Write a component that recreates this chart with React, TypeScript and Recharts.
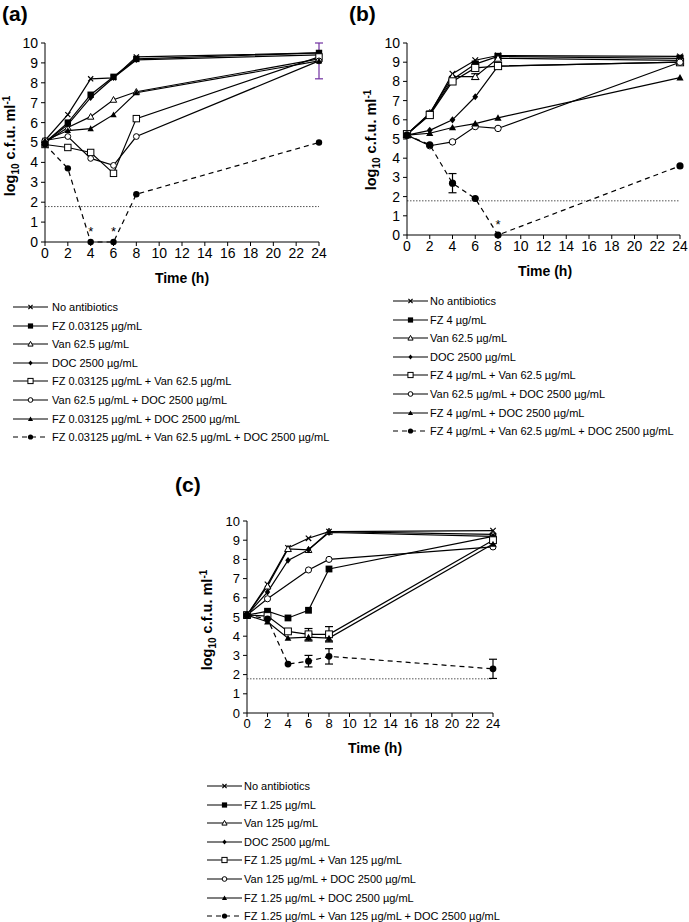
import { LineChart, Line, XAxis, YAxis, ReferenceLine, ErrorBar, LabelList } from "recharts";

const times = [0, 2, 4, 6, 8, 24];
const xTicks = [0, 2, 4, 6, 8, 10, 12, 14, 16, 18, 20, 22, 24];
const yTicks = [0, 1, 2, 3, 4, 5, 6, 7, 8, 9, 10];
const detectionLimit = 1.78;

// (a) FZ 0.03125
const aNone = [5.1, 6.4, 8.2, 8.25, 9.3, 9.5];
const aFz = [5.0, 6.0, 7.4, 8.3, 9.2, 9.5];
const aVan = [5.0, 5.75, 6.3, 7.15, 7.55, 9.2];
const aDoc = [5.0, 5.9, 7.25, 8.25, 9.15, 9.4];
const aFzVan = [4.9, 4.75, 4.5, 3.45, 6.2, 9.3];
const aVanDoc = [5.1, 5.3, 4.2, 3.85, 5.3, 9.1];
const aFzDoc = [5.1, 5.6, 5.7, 6.4, 7.5, 9.1];
const aTriple = [4.9, 3.7, 0, 0, 2.4, 5.0];
const aErrFzDoc = [null, null, null, null, null, 0.9];

// (b) FZ 4
const bNone = [5.25, 6.3, 8.4, 9.1, 9.35, 9.3];
const bFz = [5.25, 6.3, 8.1, 8.9, 9.3, 9.2];
const bVan = [5.25, 6.35, 8.25, 8.25, 9.2, 9.1];
const bDoc = [5.2, 5.45, 6.0, 7.2, 8.8, 9.0];
const bFzVan = [5.25, 6.25, 8.0, 8.7, 8.8, 9.0];
const bVanDoc = [5.2, 4.65, 4.85, 5.65, 5.55, 9.0];
const bFzDoc = [5.2, 5.3, 5.6, 5.8, 6.1, 8.2];
const bTriple = [5.2, 4.7, 2.7, 1.9, 0, 3.6];
const bErrVan = [null, null, null, 0.15, null, null];
const bErrTriple = [null, null, 0.5, null, null, null];

// (c) FZ 1.25
const cNone = [5.1, 6.7, 8.6, 9.1, 9.45, 9.5];
const cFz = [5.1, 5.3, 4.95, 5.35, 7.5, 9.2];
const cVan = [5.1, 6.6, 8.55, 8.5, 9.45, 9.3];
const cDoc = [5.1, 6.3, 7.95, 8.5, 9.4, 9.2];
const cFzVan = [5.1, 5.05, 4.25, 4.1, 4.1, 9.0];
const cVanDoc = [5.1, 5.95, null, 7.45, 8.0, 8.65];
const cFzDoc = [5.1, 4.75, 3.9, 3.95, 3.9, 8.8];
const cTriple = [5.1, 4.9, 2.55, 2.7, 2.95, 2.3];
const cErrFzVan = [null, null, null, 0.3, 0.4, null];
const cErrFzDoc = [null, null, null, 0.2, 0.15, null];
const cErrTriple = [null, null, null, 0.3, 0.4, 0.5];

const aLabels = [
  "No antibiotics",
  "FZ 0.03125 µg/mL",
  "Van 62.5 µg/mL",
  "DOC 2500 µg/mL",
  "FZ 0.03125 µg/mL + Van 62.5 µg/mL",
  "Van 62.5 µg/mL + DOC 2500 µg/mL",
  "FZ 0.03125 µg/mL + DOC 2500 µg/mL",
  "FZ 0.03125 µg/mL + Van 62.5 µg/mL + DOC 2500 µg/mL",
];
const bLabels = [
  "No antibiotics",
  "FZ 4 µg/mL",
  "Van 62.5 µg/mL",
  "DOC 2500 µg/mL",
  "FZ 4 µg/mL + Van 62.5 µg/mL",
  "Van 62.5 µg/mL + DOC 2500 µg/mL",
  "FZ 4 µg/mL + DOC 2500 µg/mL",
  "FZ 4 µg/mL + Van 62.5 µg/mL + DOC 2500 µg/mL",
];
const cLabels = [
  "No antibiotics",
  "FZ 1.25 µg/mL",
  "Van 125 µg/mL",
  "DOC 2500 µg/mL",
  "FZ 1.25 µg/mL + Van 125 µg/mL",
  "Van 125 µg/mL + DOC 2500 µg/mL",
  "FZ 1.25 µg/mL + DOC 2500 µg/mL",
  "FZ 1.25 µg/mL + Van 125 µg/mL + DOC 2500 µg/mL",
];

const keys = ["none", "fz", "van", "doc", "fzVan", "vanDoc", "fzDoc", "triple"];
const markers = ["cross", "square", "triOpen", "diamond", "sqOpen", "circOpen", "triFilled", "circFilled"];

const FONT = '"Liberation Sans", Arial, sans-serif';

const Marker = ({ kind, cx, cy, s }: { kind: string; cx: number; cy: number; s: number }) => {
  const k = "#000";
  switch (kind) {
    case "cross":
      return (
        <g stroke={k} strokeWidth={1.2}>
          <line x1={cx - s * 0.8} y1={cy - s * 0.8} x2={cx + s * 0.8} y2={cy + s * 0.8} />
          <line x1={cx - s * 0.8} y1={cy + s * 0.8} x2={cx + s * 0.8} y2={cy - s * 0.8} />
        </g>
      );
    case "square":
      return <rect x={cx - s} y={cy - s} width={s * 2} height={s * 2} fill={k} />;
    case "triOpen":
      return <polygon points={`${cx},${cy - s} ${cx + s},${cy + s * 0.8} ${cx - s},${cy + s * 0.8}`} fill="#fff" stroke={k} strokeWidth={1} />;
    case "diamond":
      return <polygon points={`${cx},${cy - s} ${cx + s * 0.8},${cy} ${cx},${cy + s} ${cx - s * 0.8},${cy}`} fill={k} />;
    case "sqOpen":
      return <rect x={cx - s} y={cy - s} width={s * 2} height={s * 2} fill="#fff" stroke={k} strokeWidth={1} />;
    case "circOpen":
      return <circle cx={cx} cy={cy} r={s * 0.9} fill="#fff" stroke={k} strokeWidth={1} />;
    case "triFilled":
      return <polygon points={`${cx},${cy - s} ${cx + s},${cy + s * 0.8} ${cx - s},${cy + s * 0.8}`} fill={k} />;
    default:
      return <circle cx={cx} cy={cy} r={s} fill={k} />;
  }
};

type PanelProps = {
  values: (number | null)[][];
  errs: Record<string, (number | null)[]>;
  errColor: string;
  left: number;
  top: number;
  width: number;
  height: number;
  mTop: number;
  mRight: number;
  yWidth: number;
  size: number;
  fontSize: number;
};

// asterisk above the points that dropped to zero
const Star = (props: any) => {
  const { x, y, value } = props;
  if (value !== 0) return null;
  return (
    <text x={x} y={y - 6} textAnchor="middle" fontSize={13} fontFamily={FONT} fill="#000" style={{ fill: "#000" }}>
      *
    </text>
  );
};

const Panel = (p: PanelProps) => {
  const rows = times.map((t, i) => {
    const row: Record<string, number | null> = { t };
    keys.forEach((key, j) => {
      row[key] = p.values[j][i];
      if (p.errs[key]) row[key + "Err"] = p.errs[key][i];
    });
    return row;
  });
  const tick = { fontSize: p.fontSize, fill: "#000", fontFamily: FONT };
  return (
    <div style={{ position: "absolute", left: p.left, top: p.top }}>
      <LineChart width={p.width} height={p.height} data={rows} margin={{ top: p.mTop, right: p.mRight, bottom: 0, left: 0 }}>
        <XAxis
          dataKey="t"
          type="number"
          domain={[0, 24]}
          ticks={xTicks}
          interval={0}
          height={30}
          tick={tick}
          tickSize={4}
          tickMargin={2}
          axisLine={{ stroke: "#000" }}
          tickLine={{ stroke: "#000" }}
        />
        <YAxis
          domain={[0, 10]}
          ticks={yTicks}
          interval={0}
          width={p.yWidth}
          tick={tick}
          tickSize={4}
          tickMargin={3}
          axisLine={{ stroke: "#000" }}
          tickLine={{ stroke: "#000" }}
        />
        <ReferenceLine y={detectionLimit} stroke="#555" strokeDasharray="1.5 1.5" />
        {keys.map((key, j) => (
          <Line
            key={key}
            dataKey={key}
            stroke="#000"
            strokeWidth={1.2}
            strokeDasharray={key === "triple" ? "5 4" : undefined}
            connectNulls
            isAnimationActive={false}
            dot={(d: any) =>
              d.cy == null || d.value == null ? (
                <g key={`${key}-${d.index}`} />
              ) : (
                <g key={`${key}-${d.index}`}>
                  <Marker kind={markers[j]} cx={d.cx} cy={d.cy} s={p.size} />
                </g>
              )
            }
            activeDot={false}
          >
            {p.errs[key] && (
              <ErrorBar dataKey={key + "Err"} width={4} stroke={p.errColor} strokeWidth={1.2} direction="y" isAnimationActive={false} />
            )}
            {key === "triple" && <LabelList dataKey={key} content={Star} />}
          </Line>
        ))}
      </LineChart>
    </div>
  );
};

const Legend = ({ labels, left, top, textLeft, step, size }: { labels: string[]; left: number; top: number; textLeft: number; step: number; size: number }) => (
  <>
    {labels.map((label, i) => (
      <div key={label} style={{ position: "absolute", left, top: top + i * step - 7, height: 14, display: "flex", alignItems: "center" }}>
        <svg width={textLeft - left} height={14} style={{ display: "block" }}>
          <line x1={0} y1={7} x2={35} y2={7} stroke="#000" strokeWidth={1.2} strokeDasharray={i === 7 ? "5 4" : undefined} />
          <Marker kind={markers[i]} cx={17.5} cy={7} s={size} />
        </svg>
        <span style={{ fontSize: 11, fontFamily: FONT, whiteSpace: "nowrap", color: "#000" }}>{label}</span>
      </div>
    ))}
  </>
);

const Abs = ({ x, y, children, style }: any) => (
  <div style={{ position: "absolute", left: x, top: y, transform: "translate(-50%, -50%)", whiteSpace: "nowrap", fontFamily: FONT, color: "#000", ...style }}>
    {children}
  </div>
);

const YTitle = ({ x, y }: { x: number; y: number }) => (
  <Abs x={x} y={y} style={{ transform: "translate(-50%, -50%) rotate(-90deg)", fontWeight: "bold", fontSize: 14.5 }}>
    log<sub style={{ fontSize: 10 }}>10</sub> c.f.u. ml<sup style={{ fontSize: 10 }}>-1</sup>
  </Abs>
);

const Letter = ({ x, y, text }: { x: number; y: number; text: string }) => (
  <div style={{ position: "absolute", left: x, top: y, fontFamily: FONT, fontWeight: "bold", fontSize: 21, lineHeight: "26px" }}>{text}</div>
);

export default function App() {
  return (
    <div style={{ position: "absolute", left: 0, top: 0, width: 689, height: 922, background: "#fff", overflow: "hidden" }}>
      <Letter x={2} y={1} text="(a)" />
      <Letter x={349} y={1} text="(b)" />
      <Letter x={175} y={472} text="(c)" />

      <Panel
        values={[aNone, aFz, aVan, aDoc, aFzVan, aVanDoc, aFzDoc, aTriple]}
        errs={{ fzDoc: aErrFzDoc }}
        errColor="#7030a0"
        left={0}
        top={0}
        width={330}
        height={272}
        mTop={43}
        mRight={11}
        yWidth={45}
        size={3.2}
        fontSize={14}
      />
      <Panel
        values={[bNone, bFz, bVan, bDoc, bFzVan, bVanDoc, bFzDoc, bTriple]}
        errs={{ van: bErrVan, triple: bErrTriple }}
        errColor="#000"
        left={345}
        top={0}
        width={344}
        height={265}
        mTop={43}
        mRight={9}
        yWidth={62}
        size={3.6}
        fontSize={14}
      />
      <Panel
        values={[cNone, cFz, cVan, cDoc, cFzVan, cVanDoc, cFzDoc, cTriple]}
        errs={{ fzVan: cErrFzVan, fzDoc: cErrFzDoc, triple: cErrTriple }}
        errColor="#000"
        left={150}
        top={470}
        width={360}
        height={273}
        mTop={51}
        mRight={17}
        yWidth={97}
        size={3.4}
        fontSize={13}
      />

      <YTitle x={11} y={146} />
      <YTitle x={372} y={140} />
      <YTitle x={208} y={620} />

      <Abs x={182} y={278} style={{ fontWeight: "bold", fontSize: 14 }}>Time (h)</Abs>
      <Abs x={545} y={271} style={{ fontWeight: "bold", fontSize: 14 }}>Time (h)</Abs>
      <Abs x={375} y={748} style={{ fontWeight: "bold", fontSize: 14 }}>Time (h)</Abs>

      <Legend labels={aLabels} left={13} top={307} textLeft={52} step={18.6} size={2.6} />
      <Legend labels={bLabels} left={393} top={301} textLeft={430} step={18.6} size={2.6} />
      <Legend labels={cLabels} left={207} top={786} textLeft={244} step={18.6} size={2.6} />
    </div>
  );
}
